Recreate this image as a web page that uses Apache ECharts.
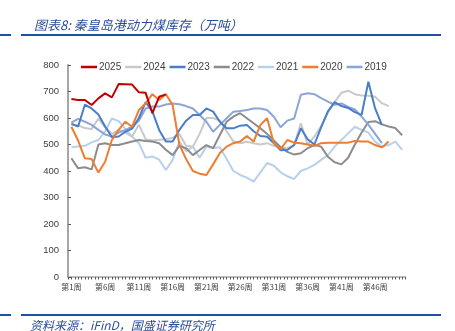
<!DOCTYPE html>
<html><head><meta charset="utf-8">
<script src="https://cdn.jsdelivr.net/npm/echarts@6/dist/echarts.min.js"></script>
<style>html,body{margin:0;padding:0;background:#fff}#c{width:455px;height:331px}</style>
</head><body><div id="c"></div>
<script>
const weeks = ['第1周','第2周','第3周','第4周','第5周','第6周','第7周','第8周','第9周','第10周',
'第11周','第12周','第13周','第14周','第15周','第16周','第17周','第18周','第19周','第20周',
'第21周','第22周','第23周','第24周','第25周','第26周','第27周','第28周','第29周','第30周',
'第31周','第32周','第33周','第34周','第35周','第36周','第37周','第38周','第39周','第40周',
'第41周','第42周','第43周','第44周','第45周','第46周','第47周','第48周','第49周','第50周'];
const yTicks = [0,100,200,300,400,500,600,700,800];
const d2025 = [672,668,668,649,674,693,678,728,727,726,697,695,618,680,689];
const d2024 = [576,572,562,558,598,565,540,555,545,530,575,520,515,518,520,525,540,495,492,540,600,600,590,550,512,505,510,505,500,505,495,490,486,498,580,500,530,570,620,660,695,703,690,685,684,680,656,645];
const d2023 = [578,568,650,636,613,568,527,530,548,560,600,660,625,555,511,511,555,590,611,611,636,624,586,561,561,571,574,550,532,529,505,478,479,498,561,520,500,565,625,660,645,638,622,612,737,636,574];
const d2022 = [448,410,414,406,500,505,498,498,505,511,517,513,511,505,480,460,495,486,460,479,498,486,536,586,605,618,599,580,561,540,515,490,472,462,467,486,498,492,454,433,425,450,500,545,585,588,576,568,562,535];
const d2021 = [490,492,495,508,517,550,598,588,558,530,505,450,455,443,404,442,510,475,492,450,492,487,490,445,400,385,375,360,395,430,420,395,380,370,400,410,423,442,460,492,517,542,567,555,545,511,492,498,511,480];
const d2020 = [567,515,448,445,394,435,517,555,586,567,630,655,690,668,690,649,500,445,400,390,385,425,468,492,505,511,532,511,574,599,505,483,517,507,505,500,495,505,507,507,507,507,513,511,511,498,489,511];
const d2019 = [583,597,586,574,555,538,530,545,555,567,590,636,643,643,651,655,652,645,636,611,586,548,574,599,624,626,630,636,636,630,605,565,590,598,688,693,690,675,662,650,655,642,632,605,575,540,505];

const names = ['2025','2024','2023','2022','2021','2020','2019'];
const datas = [d2025,d2024,d2023,d2022,d2021,d2020,d2019];
const colors = ['#C00000','#C9C9C9','#4A7EC6','#8C8C8C','#B9D0EC','#ED7D31','#8AA5D6'];
const zs = [9,3,6,4,2,7,5];

const numFont = '"Liberation Sans Narrow","Liberation Sans",Arial,sans-serif';
const chart = echarts.init(document.getElementById('c'));
chart.setOption({
  animation:false,
  title:{text:'图表8: 秦皇岛港动力煤库存（万吨）',left:29,top:14,
    textStyle:{fontFamily:'"Noto Sans CJK SC",sans-serif',fontSize:13,fontStyle:'italic',fontWeight:'normal',color:'#2B4C9B'}},
  legend:{data:names,top:57,left:76,itemWidth:16,itemHeight:2.5,itemGap:4,icon:'rect',
    textStyle:{fontFamily:numFont,fontSize:10,color:'#404040',padding:[0,0,0,-3]}},
  grid:{left:68,right:49.5,top:65,bottom:54,containLabel:false},
  xAxis:[{type:'category',data:weeks,boundaryGap:true,
      axisLine:{show:true,lineStyle:{color:'#A6A6A6',width:1.5}},
      axisTick:{show:false},
      axisLabel:{interval:4,fontSize:8,color:'#404040',margin:6,fontFamily:'"Noto Sans CJK SC",sans-serif'}},
    {type:'value',min:0,max:50,interval:0.5,position:'bottom',
      axisLine:{show:false},axisTick:{show:true,length:2.5,lineStyle:{color:'#595959',width:1}},
      axisLabel:{show:false},splitLine:{show:false}}],
  yAxis:{type:'value',min:yTicks[0],max:yTicks[yTicks.length-1],interval:100,
    axisLine:{show:true,lineStyle:{color:'#A6A6A6',width:2}},
    axisTick:{show:true,inside:true,length:3,lineStyle:{color:'#595959'}},
    axisLabel:{fontSize:9.5,color:'#404040',margin:9,fontFamily:numFont},
    splitLine:{show:false}},
  series:names.map((n,i)=>({name:n,type:'line',data:datas[i],xAxisIndex:0,symbol:'none',z:zs[i],
    lineStyle:{width:2,color:colors[i]},itemStyle:{color:colors[i]}})),
  graphic:[
    {type:'rect',shape:{x:0,y:34,width:11,height:2},style:{fill:'#2050A0'}},
    {type:'rect',shape:{x:21,y:34,width:420,height:2},style:{fill:'#2050A0'}},
    {type:'rect',shape:{x:0,y:314,width:11,height:2},style:{fill:'#2050A0'}},
    {type:'rect',shape:{x:21,y:314,width:420,height:2},style:{fill:'#2050A0'}},
    {type:'text',left:30,top:319,style:{text:'资料来源：iFinD，国盛证券研究所',fill:'#2B4C9B',
      font:'italic 12px "Noto Sans CJK SC", sans-serif'}}
  ]
});
</script></body></html>
